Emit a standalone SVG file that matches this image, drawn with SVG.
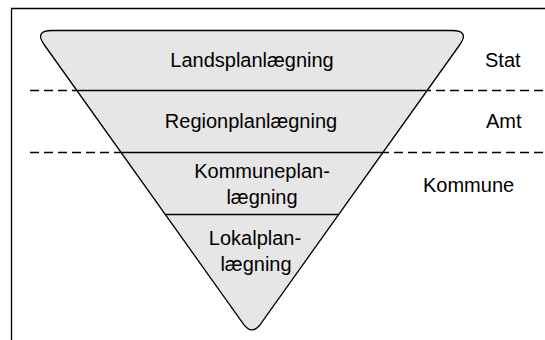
<svg xmlns="http://www.w3.org/2000/svg" width="545" height="340" viewBox="0 0 545 340">
<style>
.t{font-family:"Liberation Sans",Arial,sans-serif;font-size:20px;fill:#000}
.c{text-anchor:middle}
.frame{fill:none;stroke:#000;stroke-width:1.3}
.dash{fill:none;stroke:#000;stroke-width:1.3;stroke-dasharray:9 5}
.sep{fill:none;stroke:#000;stroke-width:1.3}
.tri{fill:#e6e6e6;stroke:#000;stroke-width:1.3;stroke-linejoin:round}
</style>
<rect width="545" height="340" fill="#fff"/>
<g id="frame">
<path class="frame" d="M11.5,340 V8.5 H545"/>
</g>
<g id="connectors">
<path class="dash" d="M30,90.5 H545"/>
<path class="dash" d="M30,152.5 H545"/>
</g>
<g id="pyramid">
<path class="tri" d="M52,30.5 H452 Q470,30.5 459.6,45 L260.7,323.8 Q252,336 243.3,323.8 L44.4,45 Q34,30.5 52,30.5 Z"/>
<path class="sep" d="M77.5,90.5 H426.5"/>
<path class="sep" d="M121.5,152.5 H382.5"/>
<path class="sep" d="M165.5,214.5 H338.5"/>
</g>
<g id="landsplan">
<text class="t c" x="252" y="67">Landsplanlægning</text>
</g>
<g id="regionplan">
<text class="t c" x="251" y="128">Regionplanlægning</text>
</g>
<g id="kommuneplan">
<text class="t c" x="262" y="178">Kommuneplan-</text>
<text class="t c" x="262" y="204">lægning</text>
</g>
<g id="lokalplan">
<text class="t c" x="255" y="245">Lokalplan-</text>
<text class="t c" x="256" y="271">lægning</text>
</g>
<g id="stat">
<text class="t" x="485" y="67">Stat</text>
</g>
<g id="amt">
<text class="t" x="486" y="128">Amt</text>
</g>
<g id="kommune">
<text class="t" x="423" y="192">Kommune</text>
</g>
</svg>
